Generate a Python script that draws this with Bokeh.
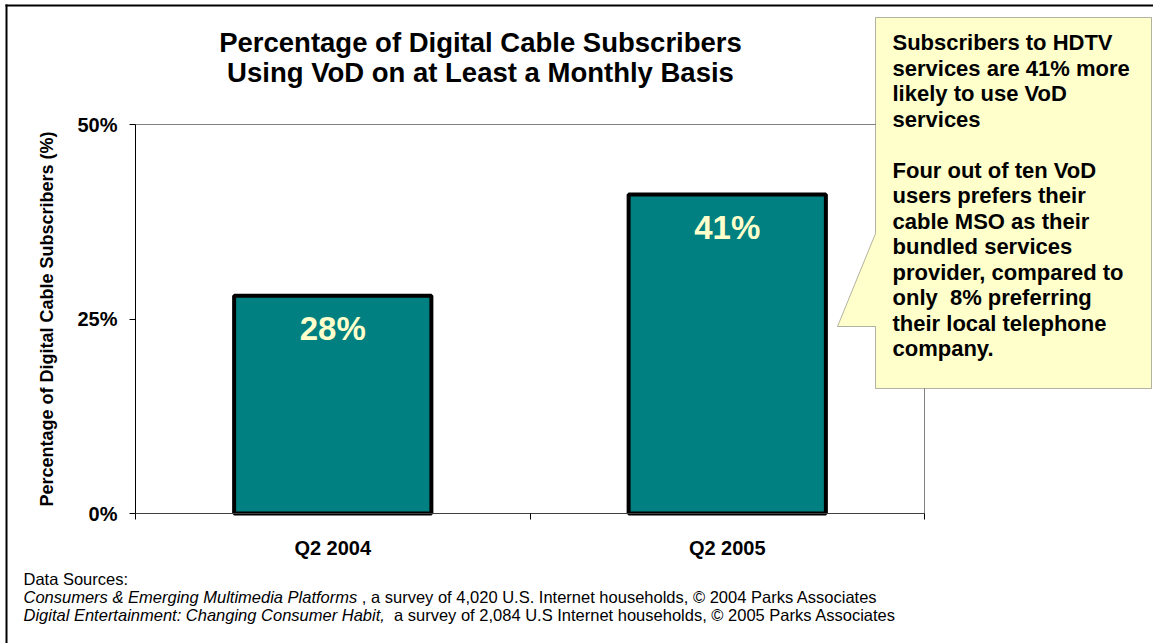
from bokeh.plotting import figure
from bokeh.models import Label, PolyAnnotation, FixedTicker, Range1d
from bokeh.core.properties import value
from bokeh.embed import file_html
from bokeh.resources import INLINE

# ---------------- data ----------------
categories = ["Q2 2004", "Q2 2005"]
percent_values = [28, 41]
y_ticks = [0, 25, 50]
y_tick_labels = ["0%", "25%", "50%"]
title_lines = ["Percentage of Digital Cable Subscribers",
               "Using VoD on at Least a Monthly Basis"]
y_axis_title = "Percentage of Digital Cable Subscribers (%)"
callout_lines = ["Subscribers to HDTV", "services are 41% more", "likely to use VoD", "services", "",
                 "Four out of ten VoD", "users prefers their", "cable MSO as their",
                 "bundled services", "provider, compared to", "only \u00a08% preferring",
                 "their local telephone", "company."]
source_header = "Data Sources:"
source_titles = ["Consumers & Emerging Multimedia Platforms",
                 "Digital Entertainment: Changing Consumer Habit,"]
source_details = [", a survey of 4,020 U.S. Internet households, \u00a9 2004 Parks Associates",
                  "a survey of 2,084 U.S Internet households, \u00a9 2005 Parks Associates"]
source_gaps = [1, 2]  # spaces between title and detail

# ---------------- layout ----------------
FONT = "Liberation Sans"
W, H = 1153, 643
FL, FR, FT, FB = 135, 924, 124, 513   # plot area in pixels


def sx(px):   # pixel x -> screen units
    return px


def sy(py):   # pixel y -> screen units (upwards)
    return H - py


_w = {' ': 278, '\u00a0': 278, '&': 667, ',': 278, '.': 278, ':': 278, '\u00a9': 737,
      'A': 667, 'C': 722, 'D': 722, 'E': 667, 'H': 722, 'I': 278, 'M': 833, 'P': 667,
      'S': 667, 'U': 722,
      'a': 556, 'b': 556, 'c': 500, 'd': 556, 'e': 556, 'f': 278, 'g': 556, 'h': 556,
      'i': 222, 'k': 500, 'l': 222, 'm': 833, 'n': 556, 'o': 556, 'r': 333, 's': 500,
      't': 278, 'u': 556, 'v': 500, 'y': 500}


def text_width(s, size):
    return sum(_w.get(c, 556) for c in s) * size / 1000.0


n = len(categories)
xs = [i + 0.5 for i in range(n)]
y_max = y_ticks[-1]

# ranges so that the plot area (0..n, 0..y_max) lands at FL..FR, FB..FT
kx = n / (FR - FL)
ky = y_max / (FB - FT)
x_range = Range1d(0 - FL * kx, n + (W - FR) * kx)
y_range = Range1d(0 - (H - FB) * ky, y_max + FT * ky)

p = figure(width=W, height=H, x_range=x_range, y_range=y_range,
           output_backend="svg", toolbar_location=None,
           min_border=0, min_border_left=0, min_border_right=0,
           min_border_top=0, min_border_bottom=0)
p.title.visible = False
p.outline_line_color = None
p.background_fill_color = "white"
p.border_fill_color = "white"
p.xgrid.visible = False
p.ygrid.visible = False

# plot-area frame lines (top and right, grey)
p.segment(x0=[0, n], y0=[y_max, 0], x1=[n, n], y1=[y_max, y_max],
          line_color="#808080", line_width=1)

# x axis
xa = p.xaxis[0]
xa.fixed_location = 0
xa.bounds = (0, n)
xa.ticker = FixedTicker(ticks=xs, minor_ticks=list(range(n + 1)))
xa.major_label_overrides = {x: c for x, c in zip(xs, categories)}
xa.major_tick_out = 0
xa.major_tick_in = 0
xa.minor_tick_out = 6
xa.minor_tick_in = 0
xa.minor_tick_line_color = "black"
xa.axis_line_color = "#404040"
xa.major_label_text_font = FONT
xa.major_label_text_font_style = "bold"
xa.major_label_text_font_size = "20px"
xa.major_label_text_color = "black"
xa.major_label_standoff = 17

# y axis
ya = p.yaxis[0]
ya.fixed_location = 0
ya.bounds = (0, y_max)
ya.ticker = FixedTicker(ticks=y_ticks, minor_ticks=[])
ya.major_label_overrides = {t: l for t, l in zip(y_ticks, y_tick_labels)}
ya.major_tick_out = 6
ya.major_tick_in = 0
ya.minor_tick_out = 0
ya.minor_tick_in = 0
ya.axis_line_color = "black"
ya.major_tick_line_color = "black"
ya.major_label_text_font = FONT
ya.major_label_text_font_style = "bold"
ya.major_label_text_font_size = "20px"
ya.major_label_text_color = "black"
ya.major_label_standoff = 12
ya.axis_label = y_axis_title
ya.axis_label_text_font = FONT
ya.axis_label_text_font_style = "bold"
ya.axis_label_text_font_size = "18px"
ya.axis_label_text_color = "black"
ya.axis_label_standoff = 17

# bars
p.vbar(x=xs, top=percent_values, bottom=0, width=0.5,
       fill_color="#008080", line_color="black", line_width=4)
p.text(x=xs, y=percent_values, text=[f"{v}%" for v in percent_values],
       text_font=value(FONT), text_font_style="bold", text_font_size="33px",
       text_color="#FFFFCC", text_align="center", text_baseline="middle", y_offset=33)

# outer frame (top and left)
p.add_layout(PolyAnnotation(xs=[sx(5), sx(W), sx(W), sx(5)],
                            ys=[sy(4), sy(4), sy(6), sy(6)],
                            xs_units="screen", ys_units="screen",
                            fill_color="black", fill_alpha=1, line_color=None))
p.add_layout(PolyAnnotation(xs=[sx(5), sx(7), sx(7), sx(5)],
                            ys=[sy(4), sy(4), sy(H), sy(H)],
                            xs_units="screen", ys_units="screen",
                            fill_color="black", fill_alpha=1, line_color=None))

# title
for i, t in enumerate(title_lines):
    p.add_layout(Label(x=sx(480), y=sy(42 + 30 * i), x_units="screen", y_units="screen",
                       text=t, text_font=FONT, text_font_style="bold", text_font_size="27.5px",
                       text_color="black", text_align="center", text_baseline="middle"))

# callout
BL, BR, BT, BB = 875, 1151, 17, 388
p.add_layout(PolyAnnotation(
    xs=[sx(BL), sx(BR), sx(BR), sx(BL), sx(BL), sx(837), sx(BL)],
    ys=[sy(BT), sy(BT), sy(BB), sy(BB), sy(326), sy(326), sy(233)],
    xs_units="screen", ys_units="screen",
    fill_color="#FFFFCC", fill_alpha=1, line_color="black", line_width=1))
for i, t in enumerate(callout_lines):
    if not t:
        continue
    p.add_layout(Label(x=sx(892), y=sy(42 + 25.5 * i), x_units="screen", y_units="screen",
                       text=t, text_font=FONT, text_font_style="bold", text_font_size="22px",
                       text_color="black", text_align="left", text_baseline="middle"))

# sources
FS = 16.5
SX0 = 23
p.add_layout(Label(x=sx(SX0), y=sy(578), x_units="screen", y_units="screen",
                   text=source_header, text_font=FONT, text_font_size=f"{FS}px",
                   text_color="black", text_align="left", text_baseline="middle"))
for i, (ttl, det, gap) in enumerate(zip(source_titles, source_details, source_gaps)):
    yy = 596 + 18 * i
    p.add_layout(Label(x=sx(SX0), y=sy(yy), x_units="screen", y_units="screen",
                       text=ttl, text_font=FONT, text_font_style="italic",
                       text_font_size=f"{FS}px", text_color="black",
                       text_align="left", text_baseline="middle"))
    x2 = SX0 + text_width(ttl, FS) + text_width(" " * gap, FS)
    p.add_layout(Label(x=sx(x2), y=sy(yy), x_units="screen", y_units="screen",
                       text=det, text_font=FONT, text_font_size=f"{FS}px",
                       text_color="black", text_align="left", text_baseline="middle"))

open("out.html", "w").write(file_html(p, INLINE))
